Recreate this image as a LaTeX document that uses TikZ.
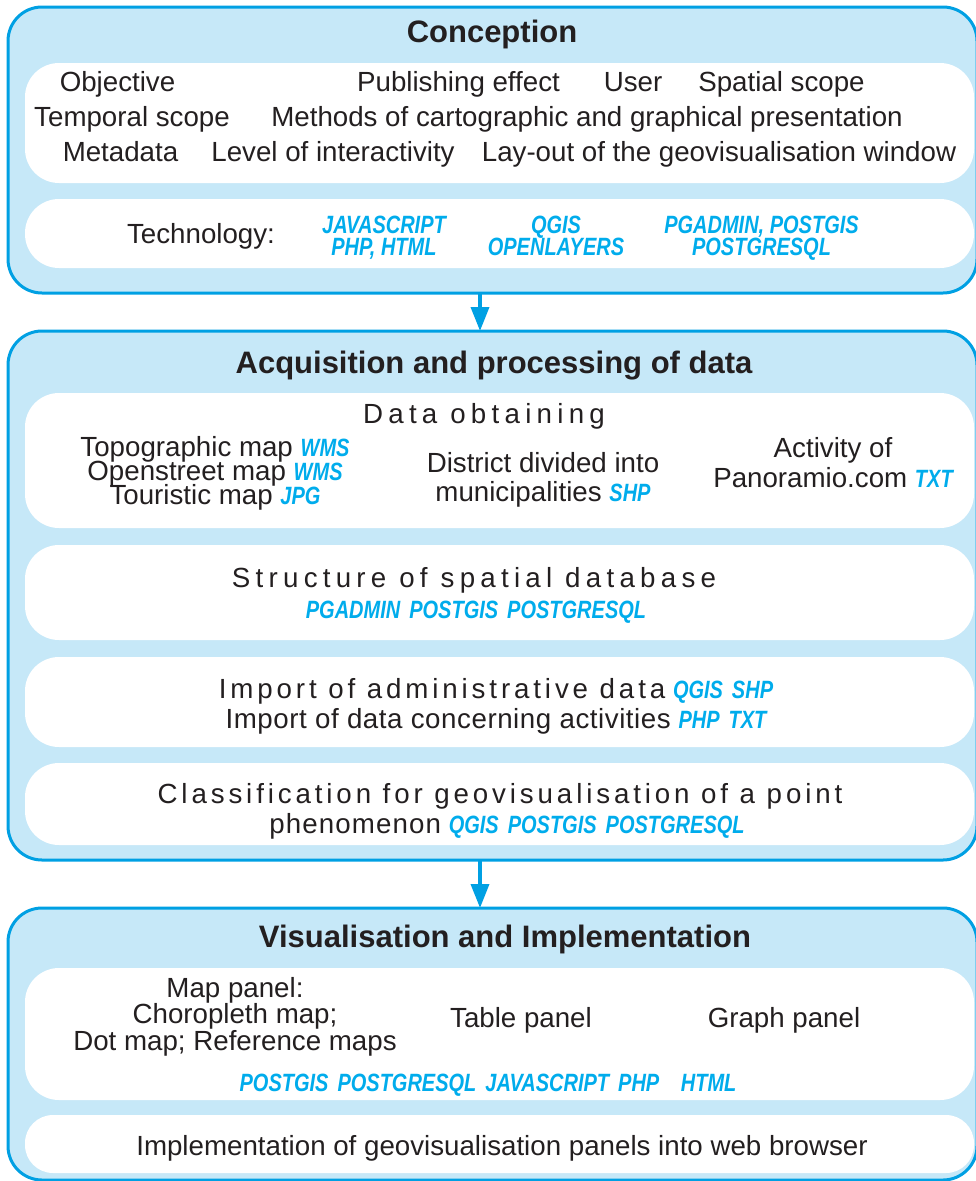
\documentclass[tikz,border=0pt]{standalone}
\usepackage{fontspec}
\setmainfont{Liberation Sans}
\newfontfamily\techfont{Liberation Sans}[FakeStretch=0.8]
\usetikzlibrary{arrows.meta}

\definecolor{panelfill}{RGB}{198,232,248}
\definecolor{panelline}{RGB}{0,160,227}
\definecolor{techblue}{RGB}{0,172,236}
\definecolor{ink}{RGB}{35,31,32}

% software / format labels: condensed bold oblique in blue
\newcommand{\techlbl}[1]{{\techfont\bfseries\itshape\fontsize{25}{26}\selectfont\color{techblue}#1}}
\newcommand{\tgap}{\hspace{9pt}}
\newcommand{\spaced}[1]{\addfontfeatures{LetterSpace=#1}}

\tikzset{
  panel/.style={draw=panelline, line width=3pt, fill=panelfill,
    rounded corners=34pt, anchor=north west, inner sep=0pt, outer sep=0pt},
  card/.style={fill=white, rounded corners=#1, anchor=north west,
    inner sep=0pt, outer sep=0pt, minimum width=949pt},
  card/.default=34pt,
  heading/.style={font=\bfseries\fontsize{31}{34}\selectfont, text=ink,
    anchor=base, inner sep=0pt},
  txt/.style={font=\fontsize{27.7}{30}\selectfont, text=ink, anchor=base,
    inner sep=0pt},
  tl/.style={anchor=base, inner sep=0pt},
  flow/.style={draw=panelline, line width=3.5pt,
    -{Triangle[length=24pt,width=18pt]}},
}

\begin{document}
\begin{tikzpicture}[x=1pt, y=-1pt]
\useasboundingbox (0,0) rectangle (976,1181);

% ---------- stage panels ----------
\node[panel, minimum width=969pt, minimum height=286pt] (conc) at (8,7) {};
\node[panel, minimum width=969pt, minimum height=529pt] (acq) at (8,331) {};
\node[panel, minimum width=969pt, minimum height=272pt] (vis) at (8,908) {};

% ---------- white cards ----------
\node[card, minimum height=120pt] (c1) at (25,63) {};
\node[card, minimum height=69pt]  (c2) at (25,199) {};
\node[card, minimum height=135pt] (d1) at (25,393) {};
\node[card, minimum height=95pt]  (d2) at (25,545) {};
\node[card, minimum height=90pt]  (d3) at (25,657) {};
\node[card, minimum height=82pt]  (d4) at (25,763) {};
\node[card, minimum height=132pt] (v1) at (25,968) {};
\node[card=28pt, minimum height=58pt] (v2) at (25,1115) {};

% ---------- flow arrows ----------
\coordinate (ax) at (480,0);
\draw[flow] (conc.south -| ax) -- (acq.north -| ax);
\draw[flow] (acq.south -| ax) -- (vis.north -| ax);

% ---------- Conception ----------
\node[heading] (h1) at (492,42) {Conception};
\node[txt] (obj)  at (117.5,91) {Objective};
\node[txt] (pub)  at (458.5,91) {Publishing effect};
\node[txt] (usr)  at (633,91) {User};
\node[txt] (spat) at (781.5,91) {Spatial scope};
\node[txt] (temp) at (132,126) {Temporal scope};
\node[txt] (meth) at (587,126) {Methods of cartographic and graphical presentation};
\node[txt] (meta) at (120.5,161) {Metadata};
\node[txt] (lvl)  at (333,161) {Level of interactivity};
\node[txt] (lay)  at (719,161) {Lay-out of the geovisualisation window};

\node[txt] (techn) at (201,243) {Technology:};
\node[tl] (t1a) at (384,233) {\techlbl{JAVASCRIPT}};
\node[tl] (t1b) at (384,255) {\techlbl{PHP, HTML}};
\node[tl] (t2a) at (556,233) {\techlbl{QGIS}};
\node[tl] (t2b) at (556,255) {\techlbl{OPENLAYERS}};
\node[tl] (t3a) at (761.5,233) {\techlbl{PGADMIN, POSTGIS}};
\node[tl] (t3b) at (761.5,255) {\techlbl{POSTGRESQL}};

% ---------- Acquisition and processing of data ----------
\node[heading] (h2) at (494,373) {Acquisition and processing of data};
\node[txt] (obt) at (484,423) {\spaced{19}Data obtaining};
\node[txt] (topo) at (215,456) {Topographic map \techlbl{WMS}};
\node[txt] (osm)  at (215,480) {Openstreet map \techlbl{WMS}};
\node[txt] (tour) at (215,504) {Touristic map \techlbl{JPG}};
\node[txt] (dis1) at (543,472) {District divided into};
\node[txt] (dis2) at (543,501) {municipalities \techlbl{SHP}};
\node[txt] (act1) at (833,457) {Activity of};
\node[txt] (act2) at (833,487) {Panoramio.com \techlbl{TXT}};

\node[txt] (str) at (474,587) {\spaced{19}Structure of spatial database};
\node[tl] (strt) at (476,618) {\techlbl{PGADMIN\tgap POSTGIS\tgap POSTGRESQL}};

\node[txt] (imp1) at (496,698) {{\spaced{14}Import of administrative data} \techlbl{QGIS\tgap SHP}};
\node[txt] (imp2) at (496,728) {{\spaced{2}Import of data concerning activities} \techlbl{PHP\tgap TXT}};

\node[txt] (cls1) at (500,803) {\spaced{14}Classification for geovisualisation of a point};
\node[txt] (cls2) at (507,833) {{\spaced{4}phenomenon} \techlbl{QGIS\tgap POSTGIS\tgap POSTGRESQL}};

% ---------- Visualisation and Implementation ----------
\node[heading] (h3) at (505,947) {Visualisation and Implementation};
\node[txt] (map1) at (235,997) {Map panel:};
\node[txt] (map2) at (235,1023) {Choropleth map;};
\node[txt] (map3) at (235,1050) {Dot map; Reference maps};
\node[txt] (tab)  at (521,1027) {Table panel};
\node[txt] (gra)  at (784,1027) {Graph panel};
\node[tl] (vist) at (488,1091) {\techlbl{POSTGIS\tgap POSTGRESQL\tgap JAVASCRIPT\tgap PHP\hspace{16pt} HTML}};
\node[txt] (impl) at (502,1155) {Implementation of geovisualisation panels into web browser};

\end{tikzpicture}
\end{document}
